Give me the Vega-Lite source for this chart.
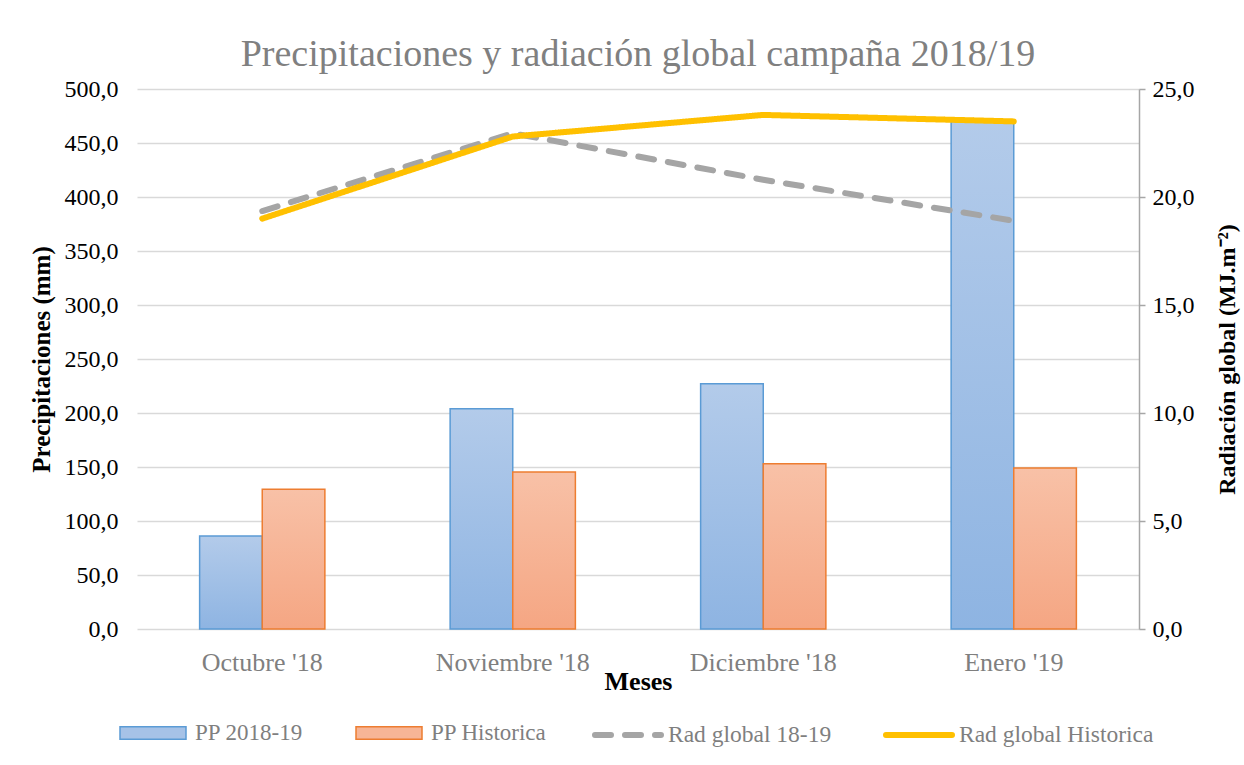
{
  "$schema": "https://vega.github.io/schema/vega-lite/v6.json",
  "autosize": {"type": "none"},
  "width": 1002,
  "height": 540,
  "padding": {"left": 137, "top": 89, "right": 105, "bottom": 136},
  "background": "white",
  "config": {"view": {"stroke": null}, "font": "Liberation Serif"},
  "title": {
    "text": "Precipitaciones y radiación global campaña 2018/19",
    "font": "Liberation Serif",
    "fontSize": 38,
    "fontWeight": "normal",
    "color": "#808080",
    "anchor": "middle",
    "offset": 3
  },
  "datasets": {
    "pp": [
      {"mes": "Octubre '18", "serie": "PP 2018-19", "valor": 86},
      {"mes": "Octubre '18", "serie": "PP Historica", "valor": 129.5},
      {"mes": "Noviembre '18", "serie": "PP 2018-19", "valor": 204},
      {"mes": "Noviembre '18", "serie": "PP Historica", "valor": 145.3},
      {"mes": "Diciembre '18", "serie": "PP 2018-19", "valor": 227},
      {"mes": "Diciembre '18", "serie": "PP Historica", "valor": 153},
      {"mes": "Enero '19", "serie": "PP 2018-19", "valor": 470},
      {"mes": "Enero '19", "serie": "PP Historica", "valor": 149}
    ],
    "rad": [
      {"mes": "Octubre '18", "serie": "Rad global 18-19", "valor": 19.35},
      {"mes": "Noviembre '18", "serie": "Rad global 18-19", "valor": 22.95},
      {"mes": "Diciembre '18", "serie": "Rad global 18-19", "valor": 20.8},
      {"mes": "Enero '19", "serie": "Rad global 18-19", "valor": 18.9},
      {"mes": "Octubre '18", "serie": "Rad global Historica", "valor": 19.0},
      {"mes": "Noviembre '18", "serie": "Rad global Historica", "valor": 22.8},
      {"mes": "Diciembre '18", "serie": "Rad global Historica", "valor": 23.8},
      {"mes": "Enero '19", "serie": "Rad global Historica", "valor": 23.5}
    ]
  },
  "encoding": {
    "x": {
      "field": "mes",
      "type": "nominal",
      "sort": ["Octubre '18", "Noviembre '18", "Diciembre '18", "Enero '19"],
      "scale": {"paddingInner": 0.5, "paddingOuter": 0.25},
      "axis": {
        "title": "Meses",
        "titleFont": "Liberation Serif",
        "titleFontSize": 26,
        "titleFontWeight": "bold",
        "titleColor": "#000000",
        "titlePadding": -7,
        "labelFont": "Liberation Serif",
        "labelFontSize": 26,
        "labelColor": "#7F7F7F",
        "labelAngle": 0,
        "labelPadding": 20,
        "domain": false,
        "ticks": false,
        "tickSize": 0
      }
    }
  },
  "layer": [
    {
      "data": {"name": "pp"},
      "encoding": {
        "xOffset": {"field": "serie", "type": "nominal", "sort": ["PP 2018-19", "PP Historica"]},
        "y": {
          "field": "valor",
          "type": "quantitative",
          "scale": {"domain": [0, 500], "nice": false},
          "axis": {
            "title": "Precipitaciones (mm)",
            "titleFont": "Liberation Serif",
            "titleFontSize": 25,
            "titleFontWeight": "bold",
            "titleColor": "#000000",
            "titlePadding": 10,
            "labelFont": "Liberation Serif",
            "labelFontSize": 24,
            "labelColor": "#000000",
            "labelPadding": 19,
            "values": [0, 50, 100, 150, 200, 250, 300, 350, 400, 450, 500],
            "labelExpr": "replace(format(datum.value, '.1f'), '.', ',')",
            "domain": false,
            "ticks": false,
            "tickSize": 0,
            "grid": true,
            "gridColor": "#D9D9D9",
            "gridWidth": 1.5
          }
        }
      },
      "layer": [
        {
          "mark": {"type": "bar"},
          "encoding": {
            "fill": {
              "field": "serie",
              "type": "nominal",
              "scale": {"domain": ["PP 2018-19", "PP Historica"], "range": ["#A6C2E7", "#F7B596"]},
              "legend": {
                "title": null,
                "orient": "none",
                "direction": "horizontal",
                "columns": 2,
                "columnPadding": 50,
                "legendX": -18,
                "legendY": 610,
                "symbolType": "M-1,-0.19H1V0.19H-1Z",
                "symbolSize": 4356,
                "symbolStrokeWidth": 1.5,
                "labelFont": "Liberation Serif",
                "labelFontSize": 23,
                "labelColor": "#7F7F7F",
                "labelOffset": 8,
                "labelLimit": 300,
                "encode": {
                  "symbols": {
                    "update": {
                      "stroke": {"signal": "datum.value === 'PP 2018-19' ? '#5B9BD5' : '#ED7D31'"},
                      "strokeWidth": {"value": 1.5}
                    }
                  }
                }
              }
            }
          }
        },
        {
          "transform": [{"filter": "datum.serie === 'PP 2018-19'"}],
          "mark": {
            "type": "bar",
            "fill": {
              "gradient": "linear",
              "x1": 0, "y1": 0, "x2": 0, "y2": 1,
              "stops": [{"offset": 0, "color": "#B3CBEA"}, {"offset": 1, "color": "#8EB4E2"}]
            },
            "stroke": "#5B9BD5",
            "strokeWidth": 1.5
          }
        },
        {
          "transform": [{"filter": "datum.serie === 'PP Historica'"}],
          "mark": {
            "type": "bar",
            "fill": {
              "gradient": "linear",
              "x1": 0, "y1": 0, "x2": 0, "y2": 1,
              "stops": [{"offset": 0, "color": "#F8C1A7"}, {"offset": 1, "color": "#F5A683"}]
            },
            "stroke": "#ED7D31",
            "strokeWidth": 1.5
          }
        }
      ]
    },
    {
      "data": {"name": "rad"},
      "mark": {"type": "line", "strokeWidth": 6, "strokeCap": "round", "strokeJoin": "round"},
      "encoding": {
        "y": {
          "field": "valor",
          "type": "quantitative",
          "scale": {"domain": [0, 25], "nice": false},
          "axis": {
            "orient": "right",
            "title": "Radiación global (MJ.m⁻²)",
            "titleAngle": 270,
            "titleBaseline": "top",
            "titleFont": "Liberation Serif",
            "titleFontSize": 24,
            "titleFontWeight": "bold",
            "titleColor": "#000000",
            "titlePadding": 21,
            "labelFont": "Liberation Serif",
            "labelFontSize": 24,
            "labelColor": "#000000",
            "labelPadding": 7,
            "values": [0, 5, 10, 15, 20, 25],
            "labelExpr": "replace(format(datum.value, '.1f'), '.', ',')",
            "domain": true,
            "domainColor": "#A6A6A6",
            "domainWidth": 1.5,
            "ticks": true,
            "tickColor": "#A6A6A6",
            "tickWidth": 1.5,
            "tickSize": 6,
            "grid": false
          }
        },
        "stroke": {
          "field": "serie",
          "type": "nominal",
          "scale": {"domain": ["Rad global 18-19", "Rad global Historica"], "range": ["#A5A5A5", "#FFC000"]},
          "legend": {
            "title": null,
            "orient": "none",
            "direction": "horizontal",
            "columns": 2,
            "columnPadding": 42,
            "legendX": 455,
            "legendY": 610,
            "symbolType": "M-1,0H1",
            "symbolSize": 4356,
            "symbolStrokeWidth": 6,
            "labelFont": "Liberation Serif",
            "labelFontSize": 23.5,
            "labelColor": "#7F7F7F",
            "labelOffset": 4,
            "labelLimit": 300,
            "encode": {"symbols": {"update": {"strokeCap": {"value": "round"}}}}
          }
        },
        "strokeDash": {
          "field": "serie",
          "type": "nominal",
          "scale": {"domain": ["Rad global 18-19", "Rad global Historica"], "range": [[16, 14], [1, 0]]},
          "legend": {
            "title": null,
            "orient": "none",
            "direction": "horizontal",
            "columns": 2,
            "columnPadding": 42,
            "legendX": 455,
            "legendY": 610,
            "symbolType": "M-1,0H1",
            "symbolSize": 4356,
            "symbolStrokeWidth": 6,
            "labelFont": "Liberation Serif",
            "labelFontSize": 23.5,
            "labelColor": "#7F7F7F",
            "labelOffset": 4,
            "labelLimit": 300,
            "encode": {"symbols": {"update": {"strokeCap": {"value": "round"}}}}
          }
        }
      }
    }
  ],
  "resolve": {"scale": {"y": "independent"}}
}
